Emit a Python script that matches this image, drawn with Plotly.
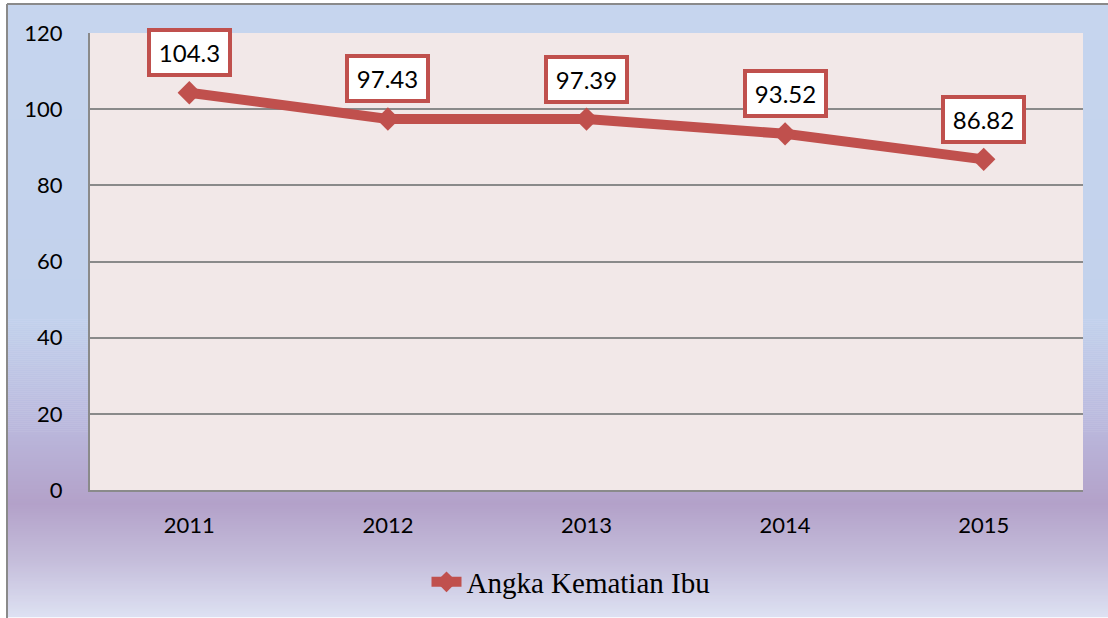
import plotly.graph_objects as go

years = ["2011", "2012", "2013", "2014", "2015"]
values = [104.3, 97.43, 97.39, 93.52, 86.82]
labels = ["104.3", "97.43", "97.39", "93.52", "86.82"]
series_name = "Angka Kematian Ibu"
y_ticks = [0, 20, 40, 60, 80, 100, 120]

W, H = 1108, 618
L, R, T, B = 90, 25, 33, 127
PW, PH = W - L - R, H - T - B

def px_to_paper_x(px):
    return (px - L) / PW

def px_to_paper_y(py):
    return (H - B - py) / PH

# gradient stops (pixel y, rgb)
stops = [(0, (198, 213, 238)), (320, (194, 209, 236)), (420, (187, 186, 222)),
         (505, (179, 161, 201)), (560, (196, 188, 218)), (618, (221, 225, 242))]

def color_at(py):
    for (y0, c0), (y1, c1) in zip(stops[:-1], stops[1:]):
        if y0 <= py <= y1:
            t = (py - y0) / (y1 - y0)
            return "rgb(%d,%d,%d)" % tuple(round(a + (b - a) * t) for a, b in zip(c0, c1))
    return "rgb(%d,%d,%d)" % stops[-1][1]

shapes = []
step = 2
py = 4
while py < H:
    shapes.append(dict(type="rect", xref="paper", yref="paper", layer="below",
                       x0=px_to_paper_x(7), x1=px_to_paper_x(W + 5),
                       y0=px_to_paper_y(py + step + 0.5), y1=px_to_paper_y(py),
                       fillcolor=color_at(py + step / 2), line=dict(width=0)))
    py += step
# plot area background
shapes.append(dict(type="rect", xref="paper", yref="paper", layer="below",
                   x0=0, x1=1, y0=0, y1=1, fillcolor="#F2E8E8", line=dict(width=0)))
# outer border (left and top)
shapes.append(dict(type="line", xref="paper", yref="paper", layer="above",
                   x0=px_to_paper_x(7), x1=px_to_paper_x(7), y0=px_to_paper_y(H + 5), y1=px_to_paper_y(4),
                   line=dict(color="#8a8a8a", width=2)))
shapes.append(dict(type="line", xref="paper", yref="paper", layer="above",
                   x0=px_to_paper_x(7), x1=px_to_paper_x(W + 5), y0=px_to_paper_y(4), y1=px_to_paper_y(4),
                   line=dict(color="#8a8a8a", width=2)))

red = "#C0504D"

fig = go.Figure()
fig.add_trace(go.Scatter(
    x=years, y=values, mode="lines+markers", name=series_name,
    line=dict(color=red, width=10),
    marker=dict(symbol="diamond", size=18, color=red, line=dict(width=0)),
))

annotations = []
for i, (v, lab) in enumerate(zip(values, labels)):
    annotations.append(dict(x=i, y=v, xref="x", yref="y", text=lab, showarrow=False, yshift=40,
                            font=dict(family="Lato", size=24, color="black"),
                            bgcolor="white", bordercolor=red, borderwidth=4,
                            borderpad=3, width=71, height=35))

fig.update_layout(
    width=W, height=H,
    margin=dict(l=L, r=R, t=T, b=B),
    paper_bgcolor="white",
    plot_bgcolor="rgba(0,0,0,0)",
    shapes=shapes,
    annotations=annotations,
    showlegend=True,
    legend=dict(orientation="h", x=px_to_paper_x(571), xanchor="center",
                y=px_to_paper_y(582), yanchor="middle",
                font=dict(family="Liberation Serif", size=29, color="black"),
                bgcolor="rgba(0,0,0,0)"),
    xaxis=dict(type="category", range=[-0.5, 4.5], showgrid=False, zeroline=False,
               showline=True, linecolor="#8a8a8a", linewidth=2,
               ticks="", ticklabelstandoff=15,
               tickfont=dict(family="Lato", size=22, color="black")),
    yaxis=dict(range=[0, 120], tickvals=y_ticks, showgrid=True, gridcolor="#8a8a8a",
               gridwidth=2, zeroline=False, showline=True, linecolor="#8a8a8a", linewidth=2,
               ticks="", ticklabelstandoff=21,
               tickfont=dict(family="Lato", size=22, color="black")),
)

fig.write_html("out.html", config={"displayModeBar": False},
               post_script="document.body.style.margin='0';document.body.style.overflow='hidden';")
